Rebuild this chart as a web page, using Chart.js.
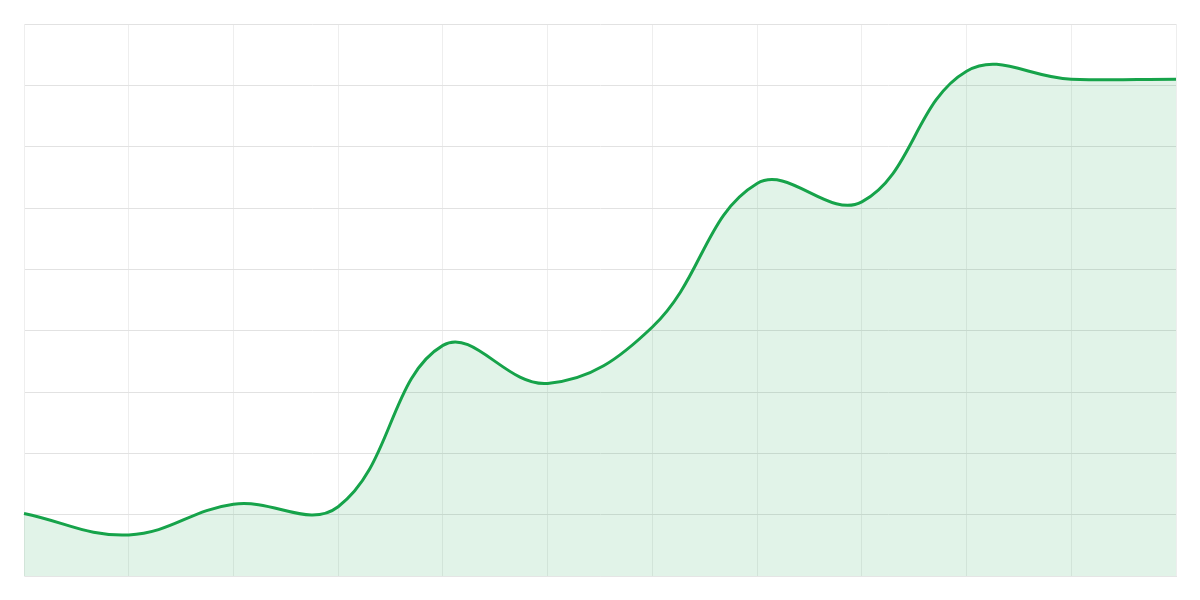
<!DOCTYPE html>
<html>
<head>
<meta charset="utf-8">
<script src="https://cdn.jsdelivr.net/npm/chart.js@4"></script>
<style>
    html, body { margin: 0; padding: 0; background: #ffffff; }
    #wrap { width: 1200px; height: 600px; }
</style>
</head>
<body>
<div id="wrap"><canvas id="lineChart"></canvas></div>
<script>
// данные графика
const labels = ["Jan", "Feb", "Mar", "Apr", "May", "Jun", "Jul", "Aug", "Sep", "Oct", "Nov", "Dec"];
const values = [10.2, 6.7, 11.7, 11.3, 37.6, 31.4, 40.6, 64.0, 61.0, 82.3, 81.0, 81.0];
const yTicks = [0, 90, 10]; // min, max, step

const ctx = document.getElementById("lineChart");
new Chart(ctx, {
    type: "line",
    data: {
        labels: labels,
        datasets: [{
            data: values,
            borderColor: "#16a34a",
            borderWidth: 3,
            backgroundColor: "rgba(22,163,74,0.13)",
            fill: true,
            tension: 0.4,
            pointRadius: 0
        }]
    },
    options: {
        responsive: true,
        maintainAspectRatio: false,
        animation: false,
        layout: { padding: 24 },
        plugins: { legend: { display: false }, tooltip: { enabled: false } },
        scales: {
            x: {
                ticks: { display: false },
                grid: { color: "#eeeeee", drawTicks: false },
                border: { color: "#e5e5e5" }
            },
            y: {
                min: yTicks[0],
                max: yTicks[1],
                ticks: { display: false, stepSize: yTicks[2] },
                grid: { color: "#e2e2e2", drawTicks: false },
                border: { color: "#eeeeee" }
            }
        }
    }
});
</script>
</body>
</html>
